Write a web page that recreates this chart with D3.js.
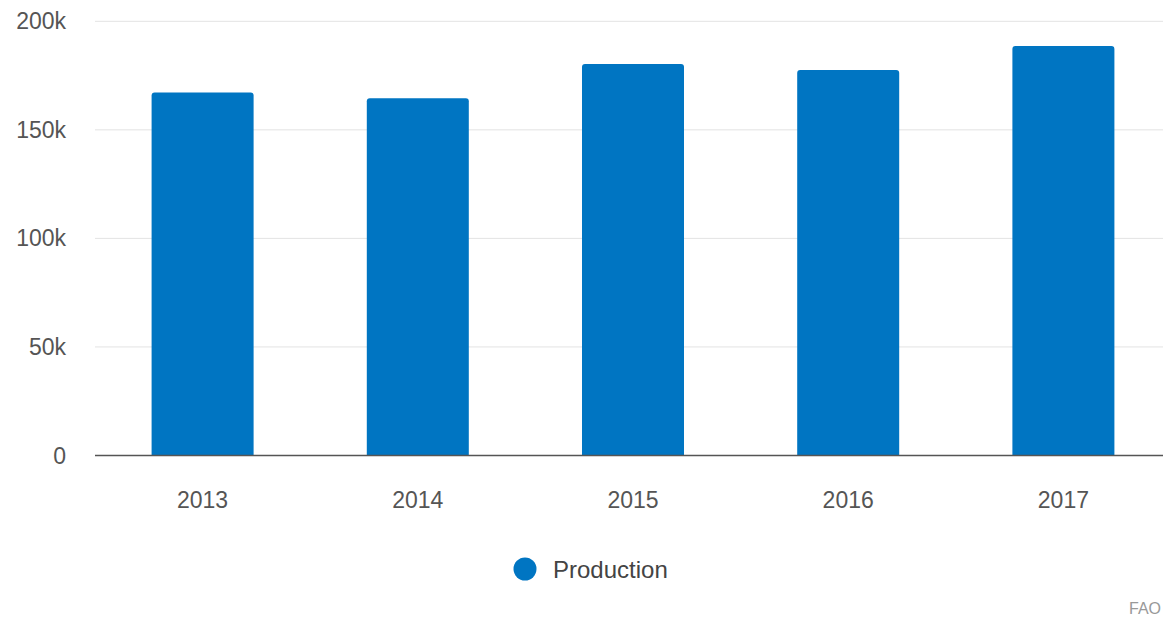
<!DOCTYPE html>
<html>
<head>
<meta charset="utf-8">
<script src="https://cdn.jsdelivr.net/npm/d3@7"></script>
<style>
  html, body { margin: 0; padding: 0; background: #ffffff; overflow: hidden; }
  svg { display: block; font-family: "Liberation Sans", Arial, sans-serif; }
</style>
</head>
<body>
<svg id="chart" width="1163" height="620"></svg>
<script>
const categories = ["2013", "2014", "2015", "2016", "2017"];
const production = [167200, 164500, 180300, 177600, 188600];
const yTicks = [0, 50000, 100000, 150000, 200000];
const yTickLabels = ["0", "50k", "100k", "150k", "200k"];
const seriesName = "Production";
const sourceText = "FAO";

const svg = d3.select("#chart");
const plotLeft = 95, plotRight = 1171, plotTop = 21.3, plotBottom = 455.5;

const x = d3.scaleBand().domain(categories).range([plotLeft, plotRight]).paddingInner(0.526).paddingOuter(0.263);
const y = d3.scaleLinear().domain([0, 200000]).range([plotBottom, plotTop]);

// gridlines
svg.append("g").selectAll("line").data(yTicks.filter(d => d > 0)).join("line")
  .attr("x1", plotLeft).attr("x2", 1163)
  .attr("y1", d => y(d)).attr("y2", d => y(d))
  .attr("stroke", "#e3e3e3").attr("stroke-width", 1);

// y labels
svg.append("g").selectAll("text").data(yTicks).join("text")
  .attr("x", 66).attr("y", d => y(d)).attr("dy", "0.35em")
  .attr("text-anchor", "end").attr("font-size", 23).attr("fill", "#555")
  .text((d, i) => yTickLabels[i]);

// bars with rounded top corners
const r = 3;
svg.append("g").selectAll("path").data(production).join("path")
  .attr("fill", "#0075c2")
  .attr("d", (d, i) => {
    const x0 = x(categories[i]), w = x.bandwidth(), y0 = y(d), y1 = y(0);
    return `M${x0},${y1}V${y0 + r}Q${x0},${y0} ${x0 + r},${y0}H${x0 + w - r}Q${x0 + w},${y0} ${x0 + w},${y0 + r}V${y1}Z`;
  });

// baseline
svg.append("line").attr("x1", plotLeft).attr("x2", 1163)
  .attr("y1", y(0)).attr("y2", y(0))
  .attr("stroke", "#555").attr("stroke-width", 1.5);

// x labels
svg.append("g").selectAll("text").data(categories).join("text")
  .attr("x", d => x(d) + x.bandwidth() / 2).attr("y", 500).attr("dy", "0.35em")
  .attr("text-anchor", "middle").attr("font-size", 23).attr("fill", "#555")
  .text(d => d);

// legend
svg.append("circle").attr("cx", 525).attr("cy", 569).attr("r", 11.5).attr("fill", "#0075c2");
svg.append("text").attr("x", 553).attr("y", 570).attr("dy", "0.35em")
  .attr("font-size", 24).attr("fill", "#444").text(seriesName);

// source
svg.append("text").attr("x", 1161).attr("y", 608).attr("dy", "0.35em")
  .attr("text-anchor", "end")
  .attr("font-size", 16).attr("fill", "#999").text(sourceText);
</script>
</body>
</html>
